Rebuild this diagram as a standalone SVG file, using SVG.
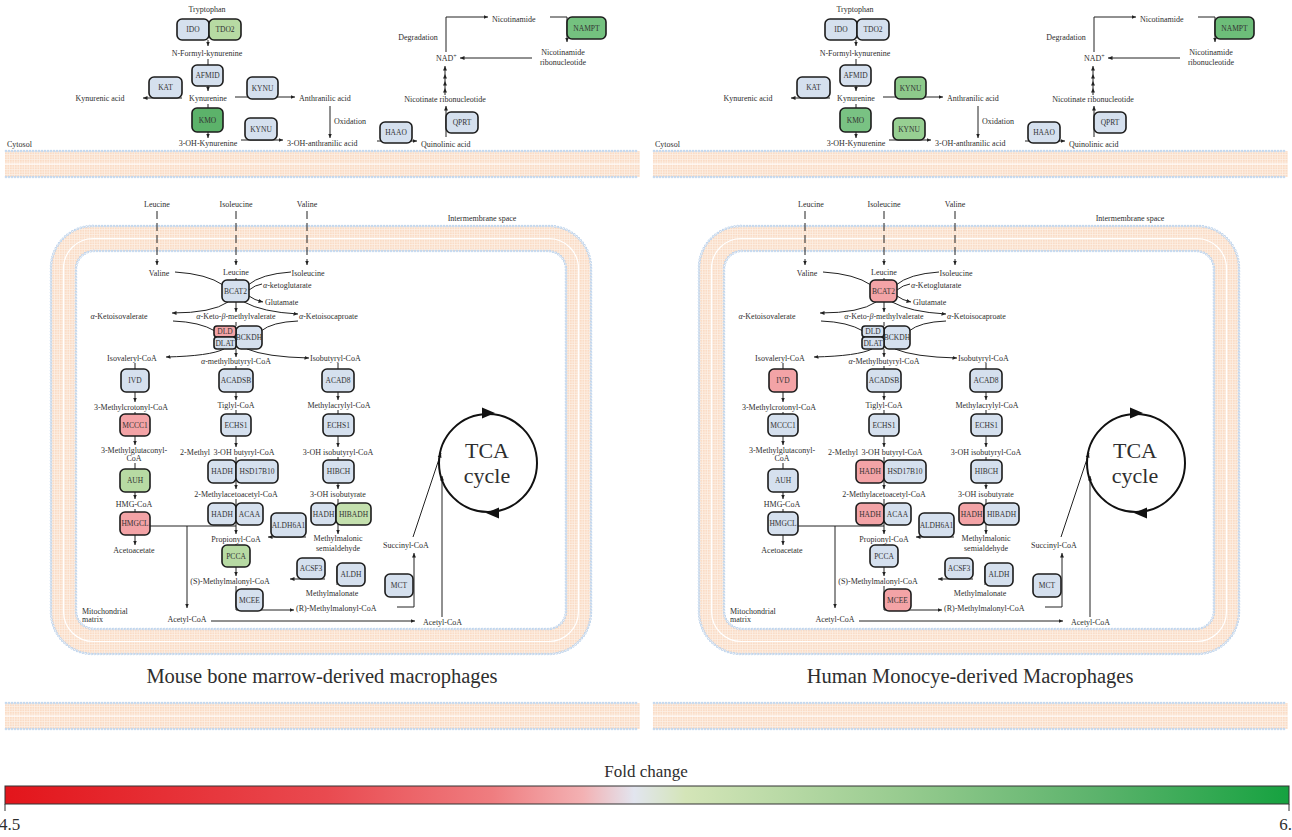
<svg xmlns="http://www.w3.org/2000/svg" xmlns:xlink="http://www.w3.org/1999/xlink" width="1292" height="837" viewBox="0 0 1292 837">
<style>
text{font-family:"Liberation Serif","DejaVu Serif",serif;fill:#2e2e2e}
.m{font-size:8px;text-anchor:middle}
.s{font-size:8px;text-anchor:start}
.nd rect{stroke:#1c1c1c;stroke-width:1.6}
.nd text{font-size:7.5px;text-anchor:middle;fill:#333}
.b{fill:#d5e0ee}.r{fill:#f3a3a6}.g1{fill:#b7daa3}.g2{fill:#c4e0ae}.g3{fill:#5cb26a}.g4{fill:#74c17f}.g5{fill:#8dca8b}.g6{fill:#79c283}.g7{fill:#97cf92}.g8{fill:#6dbd79}
.c path,.c polyline{fill:none;stroke:#222;stroke-width:1}
.c path.hd{fill:#111;stroke:none}
.a{marker-end:url(#ah)}
.d{stroke-dasharray:8 4}
.dot{fill:none;stroke:#b9d0ea;stroke-width:2.6;stroke-dasharray:0 3;stroke-linecap:round}
.doti{fill:none;stroke:#fff;stroke-width:1.1;stroke-dasharray:0 3;stroke-linecap:round}
.mid{fill:none;stroke:#fff;stroke-width:1.2}
</style>
<defs>
<marker id="ah" viewBox="0 0 8 8" refX="8" refY="4" markerWidth="4.5" markerHeight="4.5" orient="auto" markerUnits="userSpaceOnUse"><path d="M0,0.5L8,4L0,7.5z" fill="#222"/></marker>
<pattern id="lip" width="2.5" height="2.5" patternUnits="userSpaceOnUse"><rect width="2.5" height="2.5" fill="#fdf1e7"/><rect width="1.8" height="1.8" fill="#fadcc6"/></pattern>
<linearGradient id="fc" x1="0" y1="0" x2="1" y2="0">
<stop offset="0" stop-color="#e3151b"/><stop offset="0.25" stop-color="#e94a50"/><stop offset="0.38" stop-color="#ef7d80"/><stop offset="0.45" stop-color="#f3b1b3"/><stop offset="0.49" stop-color="#e2e5ef"/><stop offset="0.53" stop-color="#d4e5b8"/><stop offset="0.7" stop-color="#97cb8f"/><stop offset="0.85" stop-color="#5cb36c"/><stop offset="1" stop-color="#16a240"/>
</linearGradient>
<g id="hb">
<rect x="0" y="1" width="635" height="26" fill="url(#lip)"/>
<path class="mid" d="M0,14H635"/>
<path class="dot" d="M1,1H634M1,27H634"/>
<path class="doti" d="M1,1H634M1,27H634"/>
</g>
<g id="mb">
<rect x="63.5" y="238.5" width="515" height="403" rx="30" fill="none" stroke="url(#lip)" stroke-width="25"/>
<rect class="mid" x="63.5" y="238.5" width="515" height="403" rx="30"/>
<rect class="dot" x="51" y="226" width="540" height="428" rx="42"/>
<rect class="doti" x="51" y="226" width="540" height="428" rx="42"/>
<rect class="dot" x="76" y="251" width="490" height="378" rx="18"/>
<rect class="doti" x="76" y="251" width="490" height="378" rx="18"/>
</g>
</defs>
<rect width="1292" height="837" fill="#fff"/>
<g id="membranes">
<use xlink:href="#hb" href="#hb" x="5" y="150"/>
<use xlink:href="#hb" href="#hb" x="653" y="150"/>
<use xlink:href="#hb" href="#hb" x="5" y="702"/>
<use xlink:href="#hb" href="#hb" x="653" y="702"/>
<use xlink:href="#mb" href="#mb"/>
<use xlink:href="#mb" href="#mb" x="648"/>
</g>
<g id="connectors" class="c">
<g id="conn-l">
<path class="a" d="M208,40V46"/>
<path class="a" d="M208,59V91"/>
<path class="a" d="M208,104V138"/>
<path class="a" d="M182,98H143"/>
<path class="a" d="M235,97H295"/>
<path class="a" d="M241,140H283"/>
<path class="a" d="M330,106V138"/>
<path class="a" d="M377,141H417"/>
<path class="a" d="M446,137V106"/>
<polyline points="445,95 445,88 445,81 445,74 445,66" style="marker-mid:url(#ah);marker-end:url(#ah)"/>
<path class="a" d="M446,52V17H488"/>
<path class="a" d="M550,17H567V42"/>
<path class="a" d="M532,58H460"/>
<path class="a d" d="M157,211V265"/>
<path class="a d" d="M236,211V265"/>
<path class="a d" d="M307,211V265"/>
<path d="M236,278V281"/>
<path d="M175,272Q207,274 223,285"/>
<path d="M291,272Q261,274 248,285"/>
<path d="M262,284Q255,285 249,290"/>
<path class="a" d="M249,296Q254,300 263,302"/>
<path class="a" d="M236,302V312"/>
<path class="a" d="M228,302Q212,313 172,313"/>
<path class="a" d="M244,302Q262,312 298,314"/>
<path d="M173,321Q200,322 215,331"/>
<path d="M298,321Q272,322 261,331"/>
<path d="M236,322V326"/>
<path class="a" d="M224,349Q210,356 166,357"/>
<path class="a" d="M247,349Q266,357 309,358"/>
<path class="a" d="M236,349V357"/>
<path class="a" d="M135,363V402"/>
<path class="a" d="M135,412V445"/>
<path class="a" d="M135,463V499"/>
<path class="a" d="M135,509V545"/>
<path class="a" d="M236,366V400"/>
<path class="a" d="M236,410V447"/>
<path class="a" d="M236,457V489"/>
<path class="a" d="M236,499V534"/>
<path class="a" d="M236,544V576"/>
<path class="a" d="M236,586V610H294"/>
<path class="a" d="M338,363V400"/>
<path class="a" d="M338,410V447"/>
<path class="a" d="M338,457V489"/>
<path class="a" d="M338,499V534"/>
<path d="M150,526H236"/>
<path class="a" d="M187,526V608"/>
<path class="a" d="M306,537H268"/>
<path class="a" d="M325,579H290"/>
<path d="M337,566V585"/>
<path class="a" d="M397,607H414V553"/>
<path class="a" d="M211,621H415"/>
<path class="a" d="M442,617V476"/>
<path class="a" d="M413,537L441,453"/>
<circle cx="488" cy="463" r="49" fill="none" stroke="#111" stroke-width="2"/>
<path class="hd" d="M482,407.5L495,413L482,418.5z"/>
<path class="hd" d="M499,507.5L486,513L499,518.5z"/>
</g>
<use xlink:href="#conn-l" href="#conn-l" x="648"/>
</g>
<g id="labels-l">
<text class="m" x="207" y="12">Tryptophan</text>
<text class="m" x="207" y="56">N-Formyl-kynurenine</text>
<text class="m" x="208" y="101">Kynurenine</text>
<text class="m" x="100" y="101">Kynurenic acid</text>
<text class="s" x="299" y="101">Anthranilic acid</text>
<text class="m" x="208" y="146">3-OH-Kynurenine</text>
<text class="s" x="287" y="146">3-OH-anthranilic acid</text>
<text class="s" x="334" y="124">Oxidation</text>
<text class="s" x="421" y="147">Quinolinic acid</text>
<text class="m" x="445" y="102">Nicotinate ribonucleotide</text>
<text class="s" x="436" y="61">NAD<tspan font-size="6" dy="-3">+</tspan></text>
<text class="m" x="418" y="40">Degradation</text>
<text class="s" x="492" y="22">Nicotinamide</text>
<text class="m" x="563" y="55">Nicotinamide</text>
<text class="m" x="563" y="65">ribonucleotide</text>
<text class="s" x="7" y="147">Cytosol</text>
<text class="m" x="482" y="221">Intermembrane space</text>
<text class="m" x="157" y="207">Leucine</text>
<text class="m" x="236" y="207">Isoleucine</text>
<text class="m" x="307" y="207">Valine</text>
<text class="m" x="159" y="276">Valine</text>
<text class="m" x="236" y="275">Leucine</text>
<text class="m" x="308" y="276">Isoleucine</text>
<text class="s" x="263" y="288"><tspan font-style="italic">α</tspan>-ketoglutarate</text>
<text class="s" x="265" y="305">Glutamate</text>
<text class="m" x="119" y="319"><tspan font-style="italic">α</tspan>-Ketoisovalerate</text>
<text class="m" x="236" y="319"><tspan font-style="italic">α</tspan>-Keto-<tspan font-style="italic">β</tspan>-methylvalerate</text>
<text class="s" x="299" y="319"><tspan font-style="italic">α</tspan>-Ketoisocaproate</text>
<text class="m" x="132" y="361">Isovaleryl-CoA</text>
<text class="m" x="236" y="364"><tspan font-style="italic">α</tspan>-methylbutyryl-CoA</text>
<text class="s" x="310" y="361">Isobutyryl-CoA</text>
<text class="m" x="131" y="410">3-Methylcrotonyl-CoA</text>
<text class="m" x="236" y="408">Tiglyl-CoA</text>
<text class="m" x="339" y="408">Methylacrylyl-CoA</text>
<text class="m" x="134" y="453">3-Methylglutaconyl-</text>
<text class="m" x="134" y="461">CoA</text>
<text class="m" x="195" y="455">2-Methyl</text>
<text class="m" x="244" y="455">3-OH butyryl-CoA</text>
<text class="m" x="338" y="455">3-OH isobutyryl-CoA</text>
<text class="m" x="134" y="507">HMG-CoA</text>
<text class="m" x="236" y="497">2-Methylacetoacetyl-CoA</text>
<text class="m" x="338" y="497">3-OH isobutyrate</text>
<text class="m" x="236" y="542">Propionyl-CoA</text>
<text class="m" x="338" y="541">Methylmalonic</text>
<text class="m" x="338" y="551">semialdehyde</text>
<text class="m" x="134" y="553">Acetoacetate</text>
<text class="m" x="230" y="584">(S)-Methylmalonyl-CoA</text>
<text class="m" x="332" y="596">Methylmalonate</text>
<text class="s" x="296" y="611">(R)-Methylmalonyl-CoA</text>
<text class="m" x="406" y="548">Succinyl-CoA</text>
<text class="s" x="82" y="614">Mitochondrial</text>
<text class="s" x="82" y="622">matrix</text>
<text class="m" x="187" y="622">Acetyl-CoA</text>
<text class="s" x="423" y="625">Acetyl-CoA</text>
<text x="487" y="458" font-size="22" text-anchor="middle">TCA</text>
<text x="487" y="483" font-size="22" text-anchor="middle">cycle</text>
<text x="322" y="683" font-size="20.5" text-anchor="middle">Mouse bone marrow-derived macrophages</text>
</g>
<g id="labels-r" transform="translate(648,0)">
<text class="m" x="207" y="12">Tryptophan</text>
<text class="m" x="207" y="56">N-Formyl-kynurenine</text>
<text class="m" x="208" y="101">Kynurenine</text>
<text class="m" x="100" y="101">Kynurenic acid</text>
<text class="s" x="299" y="101">Anthranilic acid</text>
<text class="m" x="208" y="146">3-OH-Kynurenine</text>
<text class="s" x="287" y="146">3-OH-anthranilic acid</text>
<text class="s" x="334" y="124">Oxidation</text>
<text class="s" x="421" y="147">Quinolinic acid</text>
<text class="m" x="445" y="102">Nicotinate ribonucleotide</text>
<text class="s" x="436" y="61">NAD<tspan font-size="6" dy="-3">+</tspan></text>
<text class="m" x="418" y="40">Degradation</text>
<text class="s" x="492" y="22">Nicotinamide</text>
<text class="m" x="563" y="55">Nicotinamide</text>
<text class="m" x="563" y="65">ribonucleotide</text>
<text class="s" x="7" y="147">Cytosol</text>
<text class="m" x="482" y="221">Intermembrane space</text>
<text class="m" x="163" y="207">Leucine</text>
<text class="m" x="236" y="207">Isoleucine</text>
<text class="m" x="307" y="207">Valine</text>
<text class="m" x="159" y="276">Valine</text>
<text class="m" x="236" y="275">Leucine</text>
<text class="m" x="308" y="276">Isoleucine</text>
<text class="s" x="263" y="288"><tspan font-style="italic">α</tspan>-Ketoglutarate</text>
<text class="s" x="265" y="305">Glutamate</text>
<text class="m" x="119" y="319"><tspan font-style="italic">α</tspan>-Ketoisovalerate</text>
<text class="m" x="236" y="319"><tspan font-style="italic">α</tspan>-Keto-<tspan font-style="italic">β</tspan>-methylvalerate</text>
<text class="s" x="299" y="319"><tspan font-style="italic">α</tspan>-Ketoisocaproate</text>
<text class="m" x="132" y="361">Isovaleryl-CoA</text>
<text class="m" x="236" y="364"><tspan font-style="italic">α</tspan>-Methylbutyryl-CoA</text>
<text class="s" x="310" y="361">Isobutyryl-CoA</text>
<text class="m" x="131" y="410">3-Methylcrotonyl-CoA</text>
<text class="m" x="236" y="408">Tiglyl-CoA</text>
<text class="m" x="339" y="408">Methylacrylyl-CoA</text>
<text class="m" x="134" y="453">3-Methylglutaconyl-</text>
<text class="m" x="134" y="461">CoA</text>
<text class="m" x="195" y="455">2-Methyl</text>
<text class="m" x="244" y="455">3-OH butyryl-CoA</text>
<text class="m" x="338" y="455">3-OH isobutyryl-CoA</text>
<text class="m" x="134" y="507">HMG-CoA</text>
<text class="m" x="236" y="497">2-Methylacetoacetyl-CoA</text>
<text class="m" x="338" y="497">3-OH isobutyrate</text>
<text class="m" x="236" y="542">Propionyl-CoA</text>
<text class="m" x="338" y="541">Methylmalonic</text>
<text class="m" x="338" y="551">semialdehyde</text>
<text class="m" x="134" y="553">Acetoacetate</text>
<text class="m" x="230" y="584">(S)-Methylmalonyl-CoA</text>
<text class="m" x="332" y="596">Methylmalonate</text>
<text class="s" x="296" y="611">(R)-Methylmalonyl-CoA</text>
<text class="m" x="406" y="548">Succinyl-CoA</text>
<text class="s" x="82" y="614">Mitochondrial</text>
<text class="s" x="82" y="622">matrix</text>
<text class="m" x="187" y="622">Acetyl-CoA</text>
<text class="s" x="423" y="625">Acetyl-CoA</text>
<text x="487" y="458" font-size="22" text-anchor="middle">TCA</text>
<text x="487" y="483" font-size="22" text-anchor="middle">cycle</text>
<text x="322" y="683" font-size="20.5" text-anchor="middle">Human Monocye-derived Macrophages</text>
</g>
<g id="nodes-l">
<g id="l-ido" class="nd"><rect class="b" x="177" y="19" width="32" height="21" rx="5"/><text x="193" y="32.2">IDO</text></g>
<g id="l-tdo2" class="nd"><rect class="g1" x="209" y="19" width="32" height="21" rx="5"/><text x="225" y="32.2">TDO2</text></g>
<g id="l-afmid" class="nd"><rect class="b" x="192" y="65" width="31" height="21" rx="5"/><text x="207.5" y="78.2">AFMID</text></g>
<g id="l-kat" class="nd"><rect class="b" x="149" y="77" width="33" height="21" rx="5"/><text x="165.5" y="90.2">KAT</text></g>
<g id="l-kynu1" class="nd"><rect class="b" x="247" y="77" width="31" height="22" rx="5"/><text x="262.5" y="90.7">KYNU</text></g>
<g id="l-kmo" class="nd"><rect class="g3" x="192" y="108" width="31" height="24" rx="5"/><text x="207.5" y="122.7">KMO</text></g>
<g id="l-kynu2" class="nd"><rect class="b" x="245" y="118" width="32" height="22" rx="5"/><text x="261" y="131.7">KYNU</text></g>
<g id="l-haao" class="nd"><rect class="b" x="380" y="122" width="32" height="21" rx="5"/><text x="396" y="135.2">HAAO</text></g>
<g id="l-qprt" class="nd"><rect class="b" x="446" y="112" width="32" height="21" rx="5"/><text x="462" y="125.2">QPRT</text></g>
<g id="l-nampt" class="nd"><rect class="g4" x="567" y="17" width="39" height="22" rx="5"/><text x="586.5" y="30.7">NAMPT</text></g>
<g id="l-bcat2" class="nd"><rect class="b" x="222" y="280" width="27" height="22" rx="5"/><text x="235.5" y="293.7">BCAT2</text></g>
<g id="l-bckdh" class="nd"><rect class="b" x="236" y="326" width="26" height="23" rx="5"/><text x="249" y="340.2">BCKDH</text></g>
<g id="l-dld" class="nd"><rect class="r" x="214" y="326" width="22" height="11" rx="3"/><text x="225" y="334.2">DLD</text></g>
<g id="l-dlat" class="nd"><rect class="b" x="214" y="337" width="22" height="12" rx="3"/><text x="225" y="345.7">DLAT</text></g>
<g id="l-ivd" class="nd"><rect class="b" x="121" y="369" width="28" height="23" rx="5"/><text x="135" y="383.2">IVD</text></g>
<g id="l-acadsb" class="nd"><rect class="b" x="219" y="369" width="34" height="23" rx="5"/><text x="236" y="383.2">ACADSB</text></g>
<g id="l-acad8" class="nd"><rect class="b" x="322" y="369" width="32" height="23" rx="5"/><text x="338" y="383.2">ACAD8</text></g>
<g id="l-mccc1" class="nd"><rect class="r" x="120" y="414" width="30" height="22" rx="5"/><text x="135" y="427.7">MCCC1</text></g>
<g id="l-echs1a" class="nd"><rect class="b" x="221" y="414" width="30" height="22" rx="5"/><text x="236" y="427.7">ECHS1</text></g>
<g id="l-echs1b" class="nd"><rect class="b" x="323" y="414" width="31" height="22" rx="5"/><text x="338.5" y="427.7">ECHS1</text></g>
<g id="l-auh" class="nd"><rect class="g1" x="120" y="469" width="30" height="23" rx="5"/><text x="135" y="483.2">AUH</text></g>
<g id="l-hadh1" class="nd"><rect class="b" x="208" y="460" width="28" height="23" rx="5"/><text x="222" y="474.2">HADH</text></g>
<g id="l-hsd17b10" class="nd"><rect class="b" x="236" y="460" width="42" height="23" rx="5"/><text x="257" y="474.2">HSD17B10</text></g>
<g id="l-hibch" class="nd"><rect class="b" x="323" y="460" width="31" height="23" rx="5"/><text x="338.5" y="474.2">HIBCH</text></g>
<g id="l-hmgcl" class="nd"><rect class="r" x="120" y="512" width="30" height="23" rx="5"/><text x="135" y="526.2">HMGCL</text></g>
<g id="l-hadh2" class="nd"><rect class="b" x="208" y="503" width="28" height="22" rx="5"/><text x="222" y="516.7">HADH</text></g>
<g id="l-acaa" class="nd"><rect class="b" x="236" y="503" width="27" height="22" rx="5"/><text x="249.5" y="516.7">ACAA</text></g>
<g id="l-hadh3" class="nd"><rect class="b" x="311" y="503" width="25" height="22" rx="5"/><text x="323.5" y="516.7">HADH</text></g>
<g id="l-hibadh" class="nd"><rect class="g2" x="336" y="503" width="35" height="22" rx="5"/><text x="353.5" y="516.7">HIBADH</text></g>
<g id="l-aldh6a1" class="nd"><rect class="b" x="271" y="513" width="35" height="24" rx="5"/><text x="288.5" y="527.7">ALDH6A1</text></g>
<g id="l-pcca" class="nd"><rect class="g1" x="222" y="545" width="28" height="22" rx="5"/><text x="236" y="558.7">PCCA</text></g>
<g id="l-acsf3" class="nd"><rect class="b" x="297" y="558" width="28" height="21" rx="5"/><text x="311" y="571.2">ACSF3</text></g>
<g id="l-aldh" class="nd"><rect class="b" x="337" y="563" width="28" height="23" rx="5"/><text x="351" y="577.2">ALDH</text></g>
<g id="l-mcee" class="nd"><rect class="b" x="236" y="589" width="27" height="22" rx="5"/><text x="249.5" y="602.7">MCEE</text></g>
<g id="l-mct" class="nd"><rect class="b" x="385" y="574" width="28" height="23" rx="5"/><text x="399" y="588.2">MCT</text></g>
</g>
<g id="nodes-r" transform="translate(648,0)">
<g id="r-ido" class="nd"><rect class="b" x="177" y="19" width="32" height="21" rx="5"/><text x="193" y="32.2">IDO</text></g>
<g id="r-tdo2" class="nd"><rect class="b" x="209" y="19" width="32" height="21" rx="5"/><text x="225" y="32.2">TDO2</text></g>
<g id="r-afmid" class="nd"><rect class="b" x="192" y="65" width="31" height="21" rx="5"/><text x="207.5" y="78.2">AFMID</text></g>
<g id="r-kat" class="nd"><rect class="b" x="149" y="77" width="33" height="21" rx="5"/><text x="165.5" y="90.2">KAT</text></g>
<g id="r-kynu1" class="nd"><rect class="g5" x="247" y="77" width="31" height="22" rx="5"/><text x="262.5" y="90.7">KYNU</text></g>
<g id="r-kmo" class="nd"><rect class="g6" x="192" y="108" width="31" height="24" rx="5"/><text x="207.5" y="122.7">KMO</text></g>
<g id="r-kynu2" class="nd"><rect class="g7" x="245" y="118" width="32" height="22" rx="5"/><text x="261" y="131.7">KYNU</text></g>
<g id="r-haao" class="nd"><rect class="b" x="380" y="122" width="32" height="21" rx="5"/><text x="396" y="135.2">HAAO</text></g>
<g id="r-qprt" class="nd"><rect class="b" x="446" y="112" width="32" height="21" rx="5"/><text x="462" y="125.2">QPRT</text></g>
<g id="r-nampt" class="nd"><rect class="g8" x="567" y="17" width="39" height="22" rx="5"/><text x="586.5" y="30.7">NAMPT</text></g>
<g id="r-bcat2" class="nd"><rect class="r" x="222" y="280" width="27" height="22" rx="5"/><text x="235.5" y="293.7">BCAT2</text></g>
<g id="r-bckdh" class="nd"><rect class="b" x="236" y="326" width="26" height="23" rx="5"/><text x="249" y="340.2">BCKDH</text></g>
<g id="r-dld" class="nd"><rect class="b" x="214" y="326" width="22" height="11" rx="3"/><text x="225" y="334.2">DLD</text></g>
<g id="r-dlat" class="nd"><rect class="b" x="214" y="337" width="22" height="12" rx="3"/><text x="225" y="345.7">DLAT</text></g>
<g id="r-ivd" class="nd"><rect class="r" x="121" y="369" width="28" height="23" rx="5"/><text x="135" y="383.2">IVD</text></g>
<g id="r-acadsb" class="nd"><rect class="b" x="219" y="369" width="34" height="23" rx="5"/><text x="236" y="383.2">ACADSB</text></g>
<g id="r-acad8" class="nd"><rect class="b" x="322" y="369" width="32" height="23" rx="5"/><text x="338" y="383.2">ACAD8</text></g>
<g id="r-mccc1" class="nd"><rect class="b" x="120" y="414" width="30" height="22" rx="5"/><text x="135" y="427.7">MCCC1</text></g>
<g id="r-echs1a" class="nd"><rect class="b" x="221" y="414" width="30" height="22" rx="5"/><text x="236" y="427.7">ECHS1</text></g>
<g id="r-echs1b" class="nd"><rect class="b" x="323" y="414" width="31" height="22" rx="5"/><text x="338.5" y="427.7">ECHS1</text></g>
<g id="r-auh" class="nd"><rect class="b" x="120" y="469" width="30" height="23" rx="5"/><text x="135" y="483.2">AUH</text></g>
<g id="r-hadh1" class="nd"><rect class="r" x="208" y="460" width="28" height="23" rx="5"/><text x="222" y="474.2">HADH</text></g>
<g id="r-hsd17b10" class="nd"><rect class="b" x="236" y="460" width="42" height="23" rx="5"/><text x="257" y="474.2">HSD17B10</text></g>
<g id="r-hibch" class="nd"><rect class="b" x="323" y="460" width="31" height="23" rx="5"/><text x="338.5" y="474.2">HIBCH</text></g>
<g id="r-hmgcl" class="nd"><rect class="b" x="120" y="512" width="30" height="23" rx="5"/><text x="135" y="526.2">HMGCL</text></g>
<g id="r-hadh2" class="nd"><rect class="r" x="208" y="503" width="28" height="22" rx="5"/><text x="222" y="516.7">HADH</text></g>
<g id="r-acaa" class="nd"><rect class="b" x="236" y="503" width="27" height="22" rx="5"/><text x="249.5" y="516.7">ACAA</text></g>
<g id="r-hadh3" class="nd"><rect class="r" x="311" y="503" width="25" height="22" rx="5"/><text x="323.5" y="516.7">HADH</text></g>
<g id="r-hibadh" class="nd"><rect class="b" x="336" y="503" width="35" height="22" rx="5"/><text x="353.5" y="516.7">HIBADH</text></g>
<g id="r-aldh6a1" class="nd"><rect class="b" x="271" y="513" width="35" height="24" rx="5"/><text x="288.5" y="527.7">ALDH6A1</text></g>
<g id="r-pcca" class="nd"><rect class="b" x="222" y="545" width="28" height="22" rx="5"/><text x="236" y="558.7">PCCA</text></g>
<g id="r-acsf3" class="nd"><rect class="b" x="297" y="558" width="28" height="21" rx="5"/><text x="311" y="571.2">ACSF3</text></g>
<g id="r-aldh" class="nd"><rect class="b" x="337" y="563" width="28" height="23" rx="5"/><text x="351" y="577.2">ALDH</text></g>
<g id="r-mcee" class="nd"><rect class="r" x="236" y="589" width="27" height="22" rx="5"/><text x="249.5" y="602.7">MCEE</text></g>
<g id="r-mct" class="nd"><rect class="b" x="385" y="574" width="28" height="23" rx="5"/><text x="399" y="588.2">MCT</text></g>
</g>
<g id="legend">
<text x="646" y="777" font-size="17" text-anchor="middle">Fold change</text>
<rect x="5" y="786" width="1284" height="18" fill="url(#fc)" stroke="#333" stroke-width="1"/>
<path d="M5,804V811M1289,804V811" stroke="#333" stroke-width="1"/>
<text x="-1" y="830" font-size="17">4.5</text>
<text x="1292" y="830" font-size="17" text-anchor="end">6.</text>
</g>
</svg>
